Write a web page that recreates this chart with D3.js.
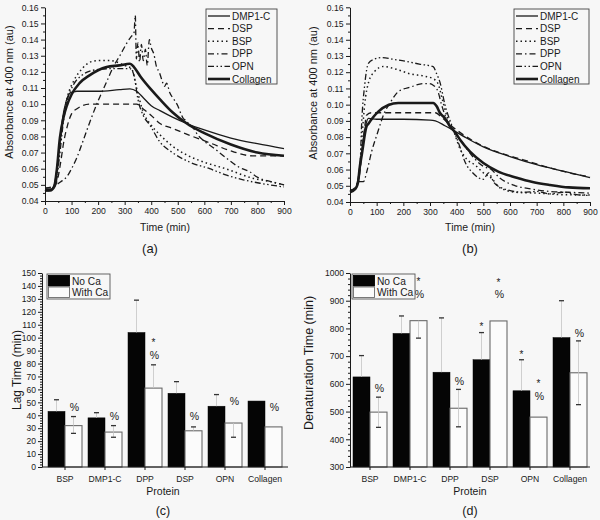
<!DOCTYPE html>
<html><head><meta charset="utf-8">
<script src="https://cdn.jsdelivr.net/npm/d3@7"></script>
<style>body{margin:0;background:#f7f7f7;} svg{display:block;font-family:"Liberation Sans",Arial,sans-serif;}</style>
</head><body><svg id="c" width="600" height="520"></svg>
<script>
// ---------- DATA ----------
const seriesNames = ["DMP1-C","DSP","BSP","DPP","OPN","Collagen"];
const timeTicks = [0,100,200,300,400,500,600,700,800,900];
const absTicks = [0.04,0.05,0.06,0.07,0.08,0.09,0.10,0.11,0.12,0.13,0.14,0.15,0.16];

// Panel (a): no Ca  [time (min), absorbance]
const a_DMP1C = [[0,0.047],[20,0.047],[35,0.050],[45,0.060],[55,0.075],[65,0.090],[80,0.102],[95,0.107],[120,0.108],[200,0.108],[280,0.109],[320,0.1095],[345,0.108],[370,0.104],[400,0.099],[433,0.096],[480,0.092],[534,0.088],[600,0.084],[700,0.079],[800,0.0755],[900,0.0725]];
const a_DSP = [[0,0.048],[30,0.048],[45,0.052],[60,0.065],[69,0.075],[85,0.087],[100,0.094],[119,0.097],[169,0.100],[250,0.100],[345,0.100],[370,0.097],[400,0.093],[433,0.088],[480,0.085],[540,0.081],[621,0.076],[700,0.071],[780,0.068],[900,0.068]];
const a_BSP = [[0,0.047],[25,0.047],[40,0.052],[55,0.072],[70,0.093],[85,0.105],[107,0.114],[140,0.122],[169,0.126],[200,0.127],[245,0.127],[300,0.124],[326,0.122],[345,0.110],[370,0.095],[395,0.088],[433,0.081],[480,0.074],[540,0.068],[600,0.064],[680,0.060],[785,0.054],[850,0.052],[900,0.050]];
const a_DPP = [[0,0.048],[31,0.049],[60,0.052],[82,0.055],[100,0.060],[119,0.0665],[145,0.078],[169,0.089],[200,0.102],[232,0.1138],[260,0.124],[282,0.130],[305,0.137],[325,0.142],[335,0.144],[340,0.155],[344,0.128],[350,0.138],[356,0.126],[363,0.137],[370,0.127],[378,0.134],[385,0.124],[393,0.140],[400,0.135],[410,0.131],[420,0.123],[430,0.120],[440,0.115],[450,0.111],[458,0.113],[470,0.107],[485,0.103],[500,0.099],[512,0.094],[521,0.091],[530,0.090],[545,0.087],[559,0.085],[575,0.081],[600,0.077],[634,0.073],[680,0.067],[730,0.061],[772,0.058],[797,0.055],[850,0.052],[900,0.050]];
const a_OPN = [[0,0.046],[25,0.047],[40,0.050],[55,0.068],[70,0.090],[85,0.103],[107,0.112],[140,0.118],[180,0.121],[250,0.122],[320,0.122],[335,0.118],[350,0.103],[370,0.093],[395,0.087],[433,0.0765],[480,0.070],[546,0.064],[620,0.060],[684,0.056],[750,0.053],[810,0.051],[900,0.0487]];
const a_Collagen = [[0,0.047],[20,0.0465],[35,0.049],[45,0.060],[56,0.079],[70,0.092],[82,0.099],[100,0.106],[130,0.113],[169,0.118],[200,0.121],[232,0.123],[280,0.124],[320,0.125],[335,0.123],[360,0.117],[400,0.109],[433,0.103],[480,0.095],[534,0.088],[600,0.082],[700,0.075],[800,0.070],[900,0.068]];

// Panel (b): with Ca
const b_DMP1C = [[0,0.047],[20,0.048],[31,0.055],[40,0.066],[50,0.079],[60,0.088],[69,0.0915],[100,0.091],[200,0.091],[300,0.0905],[320,0.090],[356,0.087],[394,0.0835],[431,0.080],[500,0.074],[600,0.068],[700,0.063],[800,0.059],[900,0.055]];
const b_DSP = [[0,0.047],[20,0.048],[35,0.056],[45,0.070],[55,0.086],[62,0.0935],[80,0.095],[150,0.095],[250,0.095],[320,0.095],[345,0.092],[380,0.087],[420,0.082],[480,0.076],[550,0.071],[650,0.066],[750,0.061],[850,0.057],[900,0.0555]];
const b_BSP = [[0,0.047],[20,0.048],[35,0.058],[45,0.080],[55,0.100],[70,0.114],[90,0.120],[125,0.1235],[170,0.122],[225,0.119],[280,0.1175],[312,0.116],[330,0.113],[345,0.104],[365,0.092],[390,0.083],[412,0.073],[440,0.066],[469,0.0628],[500,0.058],[531,0.0546],[560,0.049],[581,0.0474],[620,0.046],[700,0.0455],[800,0.0445],[900,0.0443]];
const b_DPP = [[0,0.047],[20,0.049],[31,0.0525],[50,0.0525],[65,0.060],[81,0.071],[100,0.081],[131,0.0957],[150,0.101],[181,0.108],[230,0.111],[275,0.113],[294,0.113],[312,0.112],[330,0.108],[345,0.099],[365,0.090],[390,0.084],[420,0.077],[460,0.068],[500,0.062],[530,0.060],[560,0.055],[620,0.050],[681,0.048],[750,0.0465],[820,0.046],[900,0.0455]];
const b_OPN = [[0,0.047],[25,0.049],[37,0.060],[44,0.0895],[55,0.112],[69,0.1255],[90,0.128],[120,0.129],[160,0.128],[212,0.1266],[260,0.125],[312,0.1234],[325,0.119],[337,0.114],[356,0.100],[381,0.0875],[410,0.075],[431,0.0648],[460,0.058],[500,0.054],[520,0.058],[540,0.052],[580,0.048],[650,0.046],[700,0.0465],[750,0.045],[800,0.046],[850,0.0445],[900,0.044]];
const b_Collagen = [[0,0.046],[20,0.048],[30,0.052],[37,0.062],[44,0.069],[62,0.0866],[69,0.0883],[106,0.0957],[144,0.0998],[181,0.101],[250,0.101],[312,0.101],[325,0.099],[337,0.095],[356,0.0916],[375,0.0866],[394,0.083],[412,0.0785],[450,0.071],[500,0.064],[556,0.0587],[625,0.055],[681,0.0525],[750,0.0505],[820,0.049],[900,0.0485]];

// Bars
const proteins = ["BSP","DMP1-C","DPP","DSP","OPN","Collagen"];
const barSeries = ["No Ca","With Ca"];
// (c) Lag time
const lagTicks = [0,10,20,30,40,50,60,70,80,90,100,110,120,130,140,150];
const lagNoCa   = [43, 38, 104, 57, 47, 51];
const lagWithCa = [32, 27, 61, 28, 34, 31];
const lagNoCaErrUp   = [9, 4, 25, 9, 9, 0];
const lagNoCaErrDown = [0, 0, 0, 0, 0, 0];
const lagWithCaErrUp   = [7, 5, 18, 3, 0, 0];
const lagWithCaErrDown = [6, 4, 0, 0, 11, 0];
// annotations: [protein, series index, label, value]
const lagMarks = [["BSP",1,"%",46],["DMP1-C",1,"%",39],["DPP",1,"*",98],["DPP",1,"%",86],["DSP",1,"%",39],["OPN",1,"%",51],["Collagen",1,"%",46]];
// (d) Denaturation time
const denTicks = [300,400,500,600,700,800,900,1000];
const denNoCa   = [625, 782, 642, 687, 575, 767];
const denWithCa = [498, 828, 512, 827, 480, 640];
const denNoCaErrUp   = [77, 63, 196, 98, 112, 133];
const denNoCaErrDown = [0, 0, 0, 0, 0, 0];
const denWithCaErrUp   = [54, 0, 68, 0, 0, 115];
const denWithCaErrDown = [55, 63, 67, 0, 0, 115];
const denMarks = [["DMP1-C",1,"*",978],["DMP1-C",1,"%",924],["BSP",1,"%",585],["DPP",1,"%",610],["DSP",0,"*",816],["DSP",1,"*",975],["DSP",1,"%",924],["OPN",0,"*",715],["OPN",1,"*",610],["OPN",1,"%",556],["Collagen",1,"%",784]];

// ---------- STYLES ----------
const lineStyle = {
  "DMP1-C":  {w:1.3, dash:null},
  "DSP":     {w:1.3, dash:"6,4"},
  "BSP":     {w:1.5, dash:"1.5,3"},
  "DPP":     {w:1.3, dash:"6,3,1.5,3"},
  "OPN":     {w:1.3, dash:"6,2.5,1.5,2.5,1.5,2.5"},
  "Collagen":{w:2.6, dash:null}
};
const INK = "#1a1a1a";
const FONT = '"Liberation Sans",Arial,sans-serif';
const TICKFS = 8.6;

const svg = d3.select("#c");
svg.append("rect").attr("width",600).attr("height",520).attr("fill","#f7f7f7");

function styleAxis(g, fs){
  g.attr("font-size", fs).attr("font-family", FONT);
  g.selectAll("path.domain").attr("stroke", INK).attr("stroke-width", 1);
  g.selectAll(".tick line").attr("stroke", INK);
  g.selectAll(".tick text").attr("fill", INK);
}

function linePanel(cfg){
  const x = d3.scaleLinear().domain([0,900]).range(cfg.xr);
  const y = d3.scaleLinear().domain([0.04,0.16]).range(cfg.yr);
  const g = svg.append("g");
  const gx = g.append("g").attr("transform",`translate(0,${cfg.yr[0]})`)
    .call(d3.axisBottom(x).tickValues(timeTicks).tickSize(4).tickSizeOuter(0).tickPadding(3).tickFormat(d3.format("d")));
  styleAxis(gx, TICKFS);
  const gxm = g.append("g").attr("transform",`translate(0,${cfg.yr[0]})`)
    .call(d3.axisBottom(x).tickValues(d3.range(50,900,100)).tickSize(2).tickSizeOuter(0).tickFormat(""));
  styleAxis(gxm, 9); gxm.select("path.domain").remove();
  const gy = g.append("g").attr("transform",`translate(${cfg.xr[0]},0)`)
    .call(d3.axisLeft(y).tickValues(absTicks).tickSize(4).tickSizeOuter(0).tickPadding(2.5).tickFormat(d3.format(".2f")));
  styleAxis(gy, TICKFS);
  const gym = g.append("g").attr("transform",`translate(${cfg.xr[0]},0)`)
    .call(d3.axisLeft(y).tickValues(d3.range(0.045,0.16,0.01)).tickSize(2).tickSizeOuter(0).tickFormat(""));
  styleAxis(gym, 9); gym.select("path.domain").remove();

  const line = d3.line().x(d=>x(d[0])).y(d=>y(d[1])).curve(d3.curveMonotoneX);
  seriesNames.forEach((n,i)=>{
    const st = lineStyle[n];
    g.append("path").datum(cfg.data[i]).attr("d", line)
      .attr("fill","none").attr("stroke",INK).attr("stroke-width",st.w)
      .attr("stroke-dasharray", st.dash).attr("stroke-linejoin","round");
  });
  // legend
  const L = cfg.legend;
  const lg = g.append("g");
  lg.append("rect").attr("x",L.x).attr("y",L.y).attr("width",L.w).attr("height",L.h)
    .attr("fill","#f7f7f7").attr("stroke","#444").attr("stroke-width",0.9);
  seriesNames.forEach((n,i)=>{
    const st = lineStyle[n];
    const yy = L.y + 7 + i*12.6;
    lg.append("line").attr("x1",L.x+2).attr("x2",L.x+24).attr("y1",yy).attr("y2",yy)
      .attr("stroke",INK).attr("stroke-width",st.w).attr("stroke-dasharray",st.dash);
    lg.append("text").attr("x",L.x+26).attr("y",yy).attr("dy","0.35em")
      .attr("font-size",10).attr("fill",INK).text(n);
  });
  // titles
  g.append("text").attr("transform",`translate(${cfg.ytx},${cfg.yty}) rotate(-90)`)
    .attr("text-anchor","middle").attr("dy","0.35em").attr("font-size",11).attr("fill",INK)
    .text("Absorbance at 400 nm (au)");
  g.append("text").attr("x",cfg.xtx).attr("y",231).attr("text-anchor","middle")
    .attr("font-size",10.5).attr("fill",INK).text("Time (min)");
  g.append("text").attr("x",cfg.subx).attr("y",253).attr("text-anchor","middle")
    .attr("font-size",13).attr("fill",INK).text(cfg.sub);
}

linePanel({xr:[45,284], yr:[201,7.3], data:[a_DMP1C,a_DSP,a_BSP,a_DPP,a_OPN,a_Collagen],
  legend:{x:206,y:9,w:71,h:75}, ytx:9, yty:92, xtx:165, subx:150, sub:"(a)"});
linePanel({xr:[350,590], yr:[202,7.3], data:[b_DMP1C,b_DSP,b_BSP,b_DPP,b_OPN,b_Collagen],
  legend:{x:514,y:9,w:75,h:75}, ytx:313, yty:93, xtx:470, subx:470, sub:"(b)"});

function barPanel(cfg){
  const x = d3.scaleBand().domain(proteins).range(cfg.xr).paddingInner(0.15).paddingOuter(cfg.po);
  const y = d3.scaleLinear().domain(cfg.ydom).range(cfg.yr);
  const x1 = d3.scaleBand().domain([0,1]).range([0, x.bandwidth()]);
  const g = svg.append("g");
  const vals = [cfg.noCa, cfg.withCa];
  const up = [cfg.noUp, cfg.withUp], dn = [cfg.noDn, cfg.withDn];
  // bars
  [0,1].forEach(s=>{
    g.selectAll(null).data(proteins).join("rect")
      .attr("x", p=>x(p)+x1(s)).attr("width", x1.bandwidth())
      .attr("y", (p,i)=>y(vals[s][i])).attr("height",(p,i)=>y(cfg.ydom[0])-y(vals[s][i]))
      .attr("fill", s===0 ? "#050505" : "#fbfbfb")
      .attr("stroke", s===0 ? "#050505" : "#6a6a6a").attr("stroke-width", s===0?0.5:1.1);
  });
  // error bars
  [0,1].forEach(s=>{
    proteins.forEach((p,i)=>{
      const cx = x(p)+x1(s)+x1.bandwidth()/2;
      const v = vals[s][i];
      [[up[s][i],1],[dn[s][i],-1]].forEach(([e,dir])=>{
        if(!e) return;
        const ye = y(v + dir*e);
        g.append("line").attr("x1",cx).attr("x2",cx).attr("y1",y(v)).attr("y2",ye)
          .attr("stroke","#c4c4c4").attr("stroke-width",0.8);
        g.append("line").attr("x1",cx-2.5).attr("x2",cx+2.5).attr("y1",ye).attr("y2",ye)
          .attr("stroke","#333").attr("stroke-width",1.3);
      });
    });
  });
  // annotations
  cfg.marks.forEach(([p,s,lab,v])=>{
    g.append("text").attr("x", x(p)+x1(s)+x1.bandwidth()/2 + (lab==="%"?1:0)).attr("y", y(v))
      .attr("dy", lab==="*" ? "0.6em" : "0.35em").attr("text-anchor","middle")
      .attr("font-size", lab==="*" ? 10 : 10.5).attr("fill",INK).text(lab);
  });
  // axes
  const gx = g.append("g").attr("transform",`translate(0,${cfg.yr[0]})`)
    .call(d3.axisBottom(x).tickSize(3).tickSizeOuter(0).tickPadding(6));
  styleAxis(gx, TICKFS);
  gx.select("path.domain").attr("d", `M${cfg.axx[0]},0H${cfg.axx[1]}`);
  const gy = g.append("g").attr("transform",`translate(${cfg.axx[0]},0)`)
    .call(d3.axisLeft(y).tickValues(cfg.ticks).tickSize(4).tickSizeOuter(0).tickPadding(2).tickFormat(d3.format("d")));
  styleAxis(gy, TICKFS);
  const minor = d3.range(cfg.ydom[0], cfg.ydom[1]+1e-9, cfg.minor).filter(v=>!cfg.ticks.includes(Math.round(v)));
  const gym = g.append("g").attr("transform",`translate(${cfg.axx[0]},0)`)
    .call(d3.axisLeft(y).tickValues(minor).tickSize(2).tickSizeOuter(0).tickFormat(""));
  styleAxis(gym, 9); gym.select("path.domain").remove();
  // legend
  const L = cfg.legend;
  g.append("rect").attr("x",L.x).attr("y",L.y).attr("width",L.w).attr("height",25)
    .attr("fill","#f7f7f7").attr("stroke","#555").attr("stroke-width",0.9);
  barSeries.forEach((n,i)=>{
    g.append("rect").attr("x",L.x+1.5).attr("y",L.y+1.5+i*11.5).attr("width",21).attr("height",10.5)
      .attr("fill", i===0 ? "#050505" : "#fbfbfb").attr("stroke", i===0?"#050505":"#6a6a6a").attr("stroke-width",0.9);
    g.append("text").attr("x",L.x+25).attr("y",L.y+7+i*11.5).attr("dy","0.35em")
      .attr("font-size",10.2).attr("fill",INK).text(n);
  });
  // titles
  g.append("text").attr("transform",`translate(${cfg.ytx},${cfg.yty}) rotate(-90)`)
    .attr("text-anchor","middle").attr("dy","0.35em").attr("font-size",cfg.ytfs).attr("fill",INK).text(cfg.ytitle);
  g.append("text").attr("x",cfg.xtx).attr("y",495).attr("text-anchor","middle")
    .attr("font-size",10.5).attr("fill",INK).text("Protein");
  g.append("text").attr("x",cfg.xtx).attr("y",515).attr("text-anchor","middle")
    .attr("font-size",12.5).attr("fill",INK).text(cfg.sub);
}

barPanel({xr:[42,288], po:0.15, axx:[42,288], ydom:[0,150], yr:[467,273], ticks:lagTicks, minor:2,
  noCa:lagNoCa, withCa:lagWithCa, noUp:lagNoCaErrUp, noDn:lagNoCaErrDown, withUp:lagWithCaErrUp, withDn:lagWithCaErrDown,
  marks:lagMarks, legend:{x:47,y:274,w:63}, ytx:17, yty:370, ytfs:12, ytitle:"Lag Time (min)", xtx:163, sub:"(c)"});
barPanel({xr:[350,590], po:0.075, axx:[350,590], ydom:[300,1000], yr:[467,273], ticks:denTicks, minor:20,
  noCa:denNoCa, withCa:denWithCa, noUp:denNoCaErrUp, noDn:denNoCaErrDown, withUp:denWithCaErrUp, withDn:denWithCaErrDown,
  marks:denMarks, legend:{x:352,y:274,w:63}, ytx:309, yty:363, ytfs:12.5, ytitle:"Denaturation Time (min)", xtx:470, sub:"(d)"});
</script></body></html>
